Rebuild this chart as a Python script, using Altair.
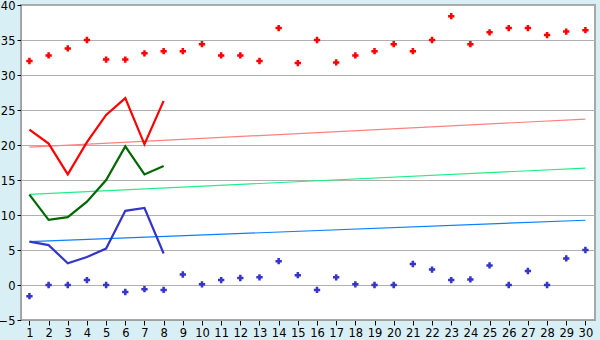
import altair as alt
import pandas as pd

days = list(range(1, 31))
max_temp = [32.0, 32.8, 33.8, 35.0, 32.2, 32.2, 33.1, 33.4, 33.4, 34.4,
            32.8, 32.8, 32.0, 36.7, 31.7, 35.0, 31.8, 32.8, 33.4, 34.4,
            33.4, 35.0, 38.4, 34.4, 36.1, 36.7, 36.7, 35.7, 36.2, 36.4]
min_temp = [-1.6, 0.0, 0.0, 0.7, 0.0, -1.0, -0.6, -0.7, 1.5, 0.1,
            0.7, 1.0, 1.1, 3.4, 1.4, -0.7, 1.1, 0.1, 0.0, 0.0,
            3.0, 2.2, 0.7, 0.8, 2.8, 0.0, 2.0, 0.0, 3.8, 5.0]

line_days = [1, 2, 3, 4, 5, 6, 7, 8]
line_high = [22.2, 20.2, 15.8, 20.4, 24.3, 26.7, 20.1, 26.3]
line_mean = [12.9, 9.3, 9.7, 11.9, 15.0, 19.8, 15.8, 17.0]
line_low = [6.2, 5.7, 3.1, 4.0, 5.2, 10.6, 11.0, 4.5]

trend_days = [1, 30]
trend_high = [19.7, 23.7]
trend_mean = [12.95, 16.7]
trend_low = [6.2, 9.25]

pts = pd.DataFrame({"day": days * 2,
                    "v": max_temp + min_temp,
                    "s": ["max"] * 30 + ["min"] * 30})
lines = pd.DataFrame({"day": line_days * 3,
                      "v": line_high + line_mean + line_low,
                      "s": ["high"] * 8 + ["mean"] * 8 + ["low"] * 8})
trends = pd.DataFrame({"day": trend_days * 3,
                       "v": trend_high + trend_mean + trend_low,
                       "s": ["th"] * 2 + ["tm"] * 2 + ["tl"] * 2})

x = alt.X("day:Q", scale=alt.Scale(domain=[0.56, 30.5], nice=False, zero=False),
          axis=alt.Axis(values=days, title=None, grid=False, labelFontSize=11.5,
                        labelFont="DejaVu Sans", labelColor="#000000",
                        domainColor="#a0a0a0", tickColor="#000000", tickSize=5,
                        labelPadding=2, labelFlush=False))
y = alt.Y("v:Q", scale=alt.Scale(domain=[-5, 40], nice=False, zero=False),
          axis=alt.Axis(values=list(range(-5, 41, 5)), title=None, grid=True,
                        gridColor="#b0b0b0", labelFontSize=11.5,
                        labelFont="DejaVu Sans", labelColor="#000000",
                        domainColor="#a0a0a0", tickColor="#000000", tickSize=4,
                        labelPadding=2, labelFlush=False, labelOffset=1))

color_scale = alt.Scale(
    domain=["max", "min", "high", "mean", "low", "th", "tm", "tl"],
    range=["#ff0000", "#3535c8", "#ff0000", "#006800", "#3535c8",
           "#ff8080", "#22ee88", "#0a80ff"])

trend_layer = alt.Chart(trends).mark_line(strokeWidth=1.2).encode(
    x=x, y=y, color=alt.Color("s:N", scale=color_scale, legend=None), detail="s:N")
line_layer = alt.Chart(lines).mark_line(strokeWidth=2.2).encode(
    x=x, y=y, color=alt.Color("s:N", scale=color_scale, legend=None), detail="s:N")
pt_layer = alt.Chart(pts).mark_point(shape="cross", size=40, filled=True, opacity=1).encode(
    x=x, y=y, color=alt.Color("s:N", scale=color_scale, legend=None))

chart = alt.layer(trend_layer, line_layer, pt_layer).properties(
    width=574, height=315,
    padding={"left": 21, "top": 5, "right": 5, "bottom": 20},
    autosize="none",
    background="#d9eff6",
).configure_view(fill="#ffffff", stroke="#a8a8a8", strokeWidth=2)

chart.save("out.html", embed_options={"renderer": "svg", "actions": False})
